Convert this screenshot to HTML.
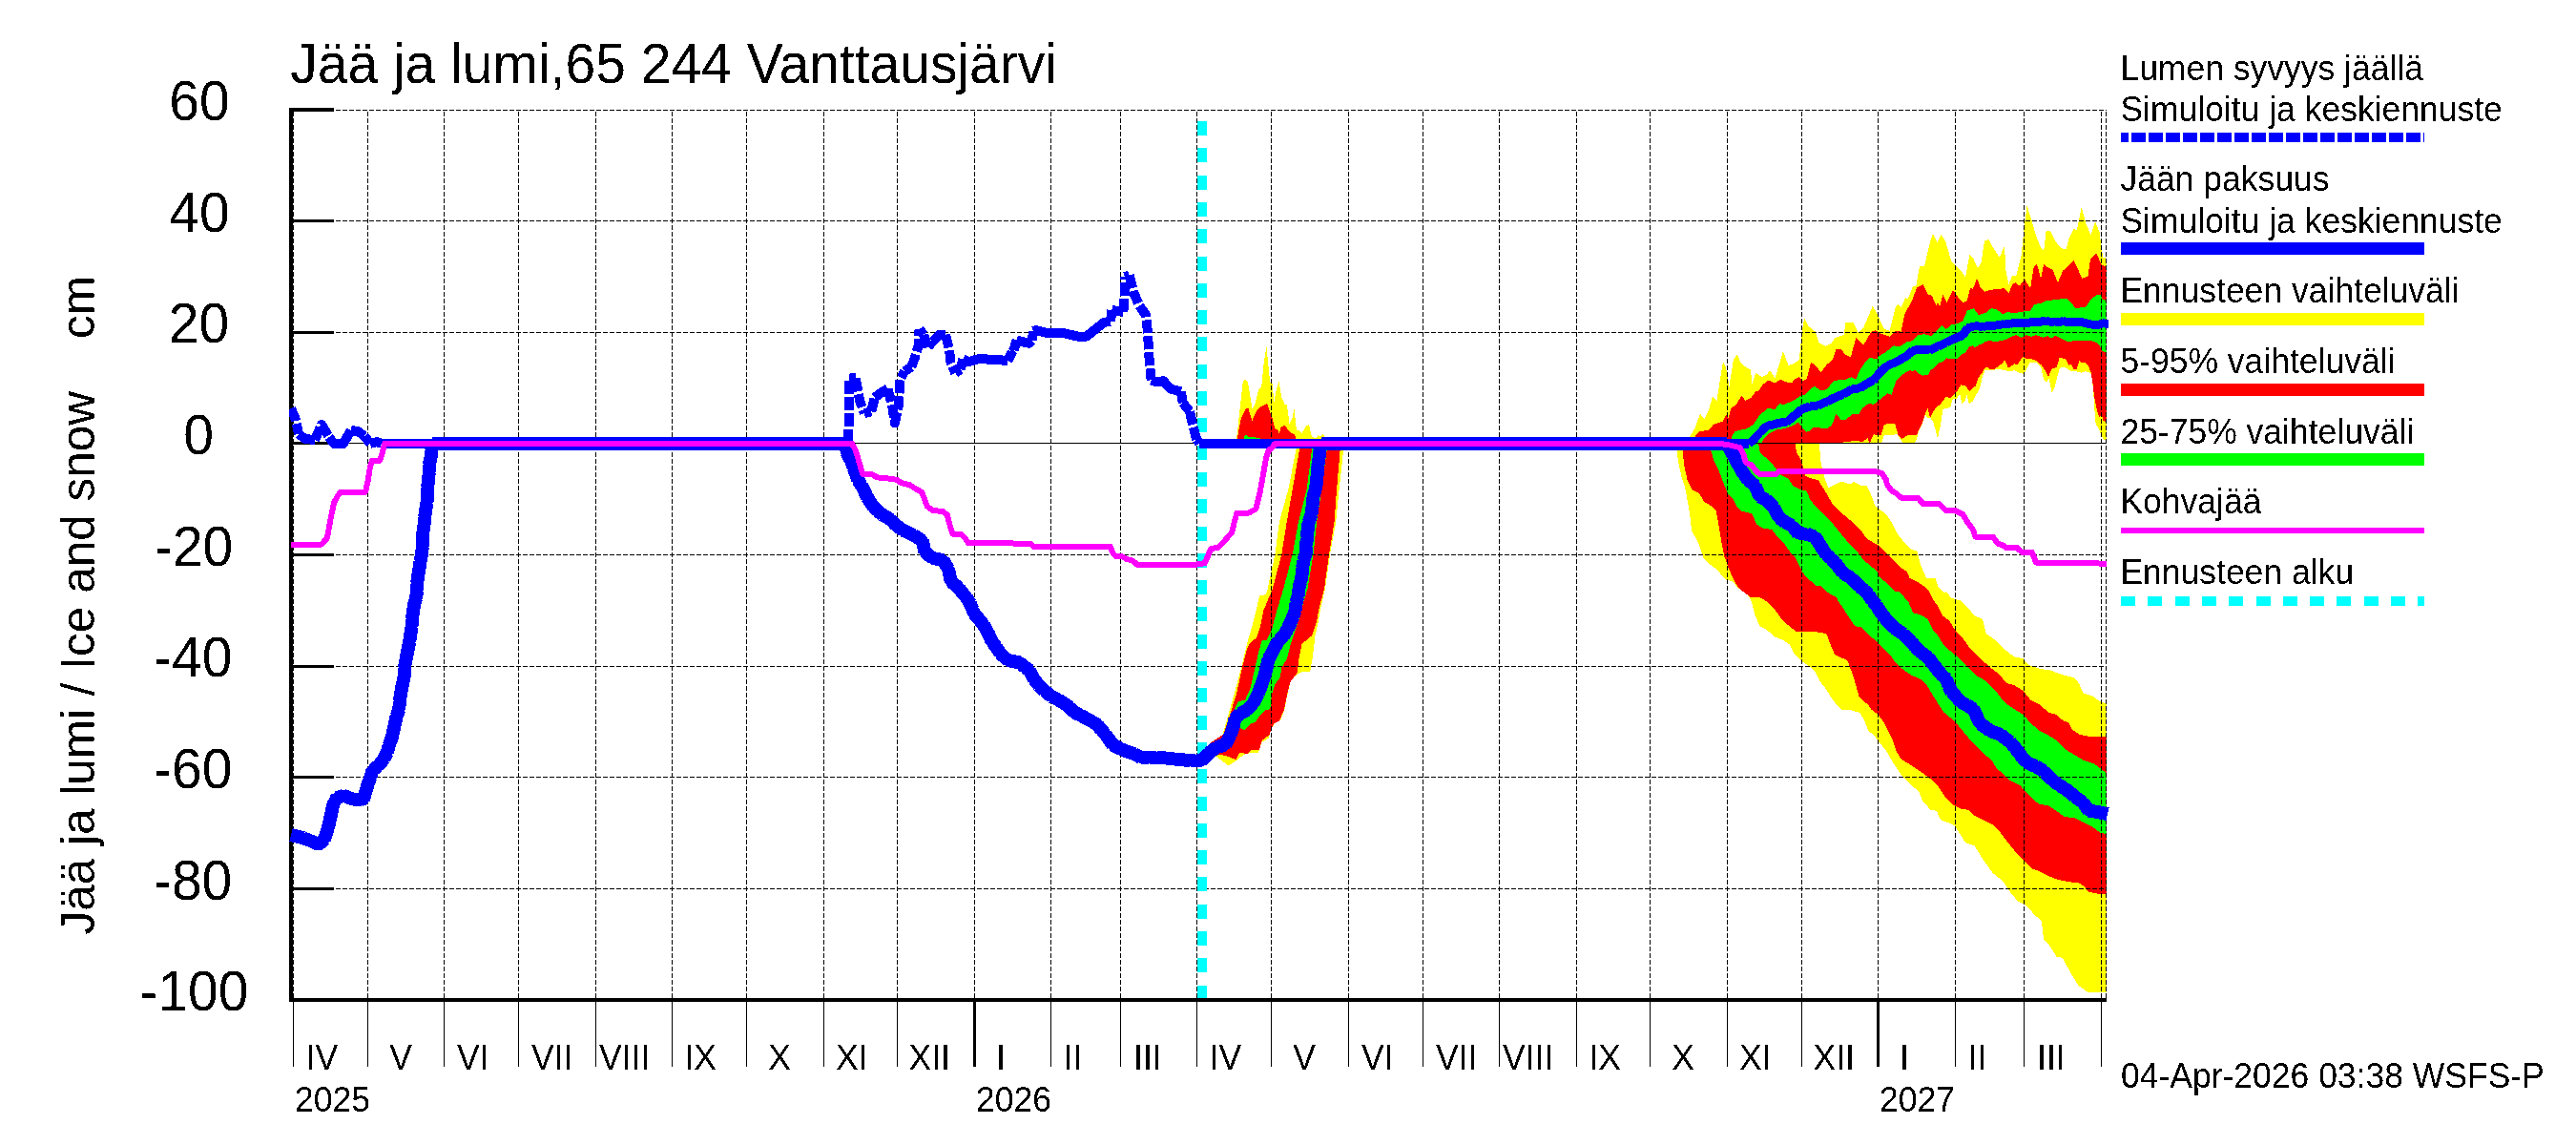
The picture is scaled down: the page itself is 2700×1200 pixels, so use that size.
<!DOCTYPE html>
<html><head><meta charset="utf-8"><title>Jää ja lumi</title>
<style>html,body{margin:0;padding:0;background:#fff}body{width:2700px;height:1200px;overflow:hidden}svg{display:block}</style>
</head><body>
<svg width="2700" height="1200" viewBox="0 0 2700 1200" shape-rendering="crispEdges">
<defs><clipPath id="cp"><rect x="303" y="100" width="1912" height="950"/></clipPath><filter id="th" filterUnits="userSpaceOnUse" x="0" y="0" width="2700" height="1200" color-interpolation-filters="sRGB"><feComponentTransfer><feFuncA type="discrete" tableValues="0 1"/></feComponentTransfer></filter></defs>
<rect width="2700" height="1200" fill="#fff"/>
<g stroke="none">
<polygon fill="#ffff00" points="1296.0,459.5 1297.7,446.5 1300.0,423.8 1302.8,400.0 1305.0,397.7 1307.9,400.0 1310.2,413.6 1312.4,428.3 1315.3,423.8 1319.2,407.9 1322.1,405.6 1324.9,378.4 1327.5,363.6 1329.5,384.0 1331.2,401.1 1334.0,402.2 1335.1,422.6 1338.0,407.9 1340.5,400.0 1343.1,415.8 1346.5,423.8 1348.8,423.8 1351.6,444.2 1354.4,438.5 1356.4,428.3 1359.0,451.0 1361.8,451.0 1364.6,453.9 1369.2,445.9 1372.0,445.3 1374.9,457.8 1379.4,459.5 1381.7,456.1 1383.9,457.3 1386.8,455.0 1388.5,457.8 1390.0,464.5 1296.0,464.5"/>
<polygon fill="#ff0000" points="1296.9,459.5 1298.8,448.8 1301.1,437.4 1304.5,430.6 1306.8,427.2 1308.5,428.3 1312.4,440.8 1317.0,430.6 1321.5,426.0 1327.2,423.2 1328.9,424.9 1331.7,434.0 1334.0,439.7 1336.3,448.8 1339.1,450.5 1340.8,454.4 1342.5,447.6 1345.9,445.9 1348.8,448.8 1352.2,453.3 1357.3,455.6 1358.4,464.5 1296.9,464.5"/>
<polygon fill="#00ff00" points="1303.0,464.5 1304.5,457.0 1306.5,455.5 1309.0,458.5 1313.0,457.5 1318.0,459.0 1324.0,460.0 1325.0,464.5"/>
<polygon fill="#ffff00" points="1359.5,464.5 1358.3,472.2 1350.4,512.4 1340.8,547.3 1336.5,580.5 1328.6,617.2 1327.0,623.0 1320.0,624.5 1316.5,640.0 1312.1,657.5 1306.9,674.9 1301.6,697.6 1294.6,723.8 1287.6,748.3 1280.7,772.8 1270.2,777.1 1266.0,784.0 1273.7,792.0 1280.7,797.2 1287.6,802.4 1294.6,798.1 1299.9,793.7 1305.1,790.2 1310.3,789.3 1319.1,788.5 1322.6,778.0 1329.6,773.6 1333.1,762.3 1336.6,757.9 1341.8,755.3 1346.2,744.8 1348.8,730.8 1352.3,715.1 1355.8,709.9 1362.8,704.6 1373.2,703.8 1375.9,688.9 1378.5,666.2 1382.0,650.5 1383.7,640.0 1388.9,617.2 1394.1,580.5 1400.2,547.3 1403.7,512.4 1408.1,472.2 1409.0,464.5"/>
<polygon fill="#ff0000" points="1363.0,464.5 1361.8,472.2 1354.8,512.4 1348.7,547.3 1343.4,580.5 1333.8,617.2 1324.3,640.0 1320.8,657.5 1317.3,668.0 1309.5,674.9 1306.9,680.2 1301.6,701.1 1296.4,725.6 1291.1,743.1 1282.4,769.3 1269.3,778.0 1267.0,784.0 1273.7,790.2 1280.7,791.1 1287.6,792.8 1295.5,796.3 1299.0,788.5 1306.9,790.2 1312.1,785.9 1320.0,785.9 1322.6,776.2 1330.4,770.1 1334.8,758.8 1340.9,755.3 1346.2,743.1 1348.8,729.1 1352.3,715.1 1360.1,704.6 1361.0,692.4 1364.5,674.9 1375.0,666.2 1380.2,650.5 1382.0,640.0 1388.0,617.2 1393.2,580.5 1398.5,547.3 1401.1,512.4 1404.6,472.2 1405.5,464.5"/>
<polygon fill="#00ff00" points="1376.0,464.5 1374.9,472.2 1369.7,512.4 1360.9,547.3 1354.8,580.5 1345.2,617.2 1338.3,640.0 1333.1,659.2 1327.8,670.6 1322.6,671.4 1319.1,683.7 1315.6,699.4 1310.3,722.1 1305.1,733.4 1298.1,735.2 1293.8,743.1 1292.0,752.0 1299.9,762.3 1304.2,765.8 1310.3,758.8 1315.6,757.0 1319.1,751.8 1325.2,744.8 1331.3,743.1 1333.1,727.3 1336.6,716.9 1341.8,709.9 1343.5,699.4 1348.8,690.7 1352.3,676.7 1357.5,661.0 1362.8,645.2 1363.6,640.0 1370.5,617.2 1376.6,580.5 1380.1,547.3 1385.4,512.4 1390.6,472.2 1391.5,464.5"/>
<polygon fill="#ffff00" points="1771.4,464.5 1972.2,464.5 1974.7,456.0 1988.7,455.4 1991.8,460.2 1994.2,464.5 2006.5,464.5 2008.9,460.2 2011.3,451.5 2015.0,444.1 2018.1,434.3 2019.9,438.2 2023.6,438.2 2026.6,443.1 2030.9,459.6 2034.0,445.6 2036.4,429.1 2040.7,427.8 2044.4,426.6 2046.8,417.5 2051.1,417.5 2054.1,412.6 2056.6,423.0 2059.0,421.1 2061.5,414.4 2063.9,423.6 2067.6,420.5 2071.2,413.8 2074.9,407.7 2077.4,396.7 2080.4,388.1 2083.5,387.5 2090.8,387.5 2094.5,386.9 2100.6,388.1 2107.9,389.3 2111.6,388.1 2117.7,391.2 2121.4,391.8 2124.4,386.3 2127.5,380.2 2134.8,380.2 2139.1,384.4 2142.2,397.9 2145.2,400.3 2147.7,396.7 2150.5,411.3 2153.2,407.1 2155.6,397.9 2158.7,386.3 2162.9,384.4 2166.6,386.3 2170.3,388.7 2176.4,389.3 2181.3,390.6 2186.2,389.3 2189.8,390.0 2192.3,393.0 2194.1,408.9 2195.3,428.5 2196.6,444.4 2199.6,449.2 2202.7,456.6 2205.1,461.5 2208.0,460.2 2208.0,270.7 2204.1,269.9 2200.6,243.7 2196.2,232.3 2191.5,246.3 2186.6,234.9 2181.7,217.5 2177.0,241.0 2173.5,240.2 2168.3,250.7 2165.6,261.1 2160.4,260.3 2155.2,254.1 2149.0,241.9 2144.7,241.9 2142.1,262.9 2139.4,260.3 2134.2,247.2 2129.0,229.7 2124.6,215.4 2122.0,234.9 2118.5,268.1 2113.2,289.1 2108.9,289.1 2105.4,297.8 2102.4,283.8 2101.0,257.6 2095.8,269.9 2088.8,259.4 2084.4,251.0 2080.0,252.4 2076.6,275.1 2073.1,281.2 2067.8,269.9 2064.3,267.2 2060.0,290.8 2055.6,283.8 2050.3,278.6 2045.1,273.4 2039.0,252.4 2034.6,245.8 2030.3,254.1 2025.9,245.1 2022.4,255.9 2017.2,278.6 2011.9,279.5 2008.4,299.6 2004.9,300.4 1999.7,313.5 1997.1,311.8 1992.7,322.3 1989.2,318.8 1986.6,322.3 1980.5,346.7 1975.2,345.0 1970.0,334.5 1967.1,327.9 1962.7,321.0 1958.3,331.4 1953.1,343.7 1947.9,348.9 1942.6,337.6 1934.2,337.6 1933.0,350.7 1923.4,354.1 1919.9,359.4 1913.8,362.9 1906.8,359.4 1902.4,347.2 1895.5,341.9 1891.1,333.2 1888.5,348.9 1885.9,376.9 1879.7,381.2 1874.5,383.0 1868.9,368.1 1864.9,382.1 1860.5,396.1 1854.9,388.2 1851.8,392.6 1846.6,395.2 1840.4,390.8 1836.1,403.1 1835.2,387.3 1830.8,385.6 1824.7,380.3 1820.7,371.3 1816.9,376.9 1812.5,404.8 1809.0,385.6 1806.0,378.6 1802.9,397.8 1799.4,420.5 1795.0,415.3 1790.7,431.0 1786.3,438.9 1781.9,433.6 1776.7,448.5 1771.4,457.2"/>
<polygon fill="#ff0000" points="1776.7,464.5 1925.2,464.5 1946.1,461.6 1952.2,463.3 1957.5,459.0 1959.0,463.3 1960.0,463.9 1963.7,455.4 1971.6,456.0 1974.7,445.6 1978.3,444.1 1986.3,444.1 1989.3,455.4 1993.6,459.6 2000.3,456.0 2008.9,456.0 2011.3,450.5 2015.0,443.1 2018.1,433.3 2020.5,427.8 2023.0,437.6 2026.6,430.9 2029.7,426.6 2033.3,424.2 2039.5,416.2 2044.4,416.8 2048.0,413.8 2051.7,409.5 2055.4,403.4 2060.2,404.6 2064.5,410.1 2067.6,406.5 2070.6,404.6 2073.7,395.5 2077.4,391.2 2080.4,385.7 2083.5,385.1 2085.9,386.9 2090.8,386.9 2095.7,382.6 2098.8,380.8 2101.2,377.1 2104.9,385.7 2108.5,383.2 2111.6,381.4 2114.6,382.0 2117.7,377.7 2120.1,374.1 2123.8,375.9 2128.7,375.9 2134.8,378.3 2139.7,382.6 2143.4,388.1 2147.0,394.8 2150.7,386.3 2155.6,385.1 2158.7,374.7 2161.7,375.3 2165.4,376.5 2168.4,383.2 2170.9,381.4 2173.3,386.9 2176.4,386.9 2179.4,378.3 2181.3,380.2 2186.2,380.2 2189.2,384.4 2191.7,390.6 2193.5,401.6 2195.3,417.5 2198.4,432.1 2200.8,438.2 2202.7,433.3 2204.5,440.7 2208.0,443.1 2208.0,280.3 2202.3,276.9 2197.1,265.0 2191.0,271.6 2188.3,290.0 2182.2,291.7 2177.9,282.1 2173.5,273.4 2167.4,279.5 2162.1,283.8 2156.9,296.1 2151.7,283.0 2146.4,280.3 2142.1,276.9 2139.1,292.6 2135.1,276.9 2131.6,280.3 2128.1,302.2 2124.6,296.9 2122.0,292.6 2116.7,299.6 2112.4,296.1 2108.9,298.7 2105.4,307.4 2101.0,302.2 2092.3,303.1 2085.3,303.9 2080.0,305.7 2075.7,301.3 2072.2,291.7 2067.8,303.1 2065.2,301.3 2061.7,315.3 2057.3,317.0 2053.8,313.5 2050.3,308.3 2046.9,303.9 2040.7,317.0 2036.4,308.3 2033.2,321.4 2031.1,317.0 2029.4,320.5 2025.0,310.0 2020.7,308.3 2015.8,298.2 2009.3,301.3 2003.2,317.0 1996.2,329.3 1992.7,347.6 1986.6,346.7 1980.5,352.8 1970.0,349.3 1966.2,346.3 1961.8,347.2 1958.3,352.4 1953.1,362.0 1949.6,358.5 1945.2,354.1 1940.0,374.2 1933.9,371.6 1930.4,366.4 1924.3,366.4 1920.8,376.9 1914.7,382.1 1908.6,390.0 1903.3,383.8 1898.1,379.5 1893.7,396.9 1889.3,399.6 1885.9,395.2 1881.5,396.9 1878.0,401.3 1872.8,400.4 1865.8,397.8 1860.5,401.3 1853.5,398.7 1847.4,403.1 1843.9,409.2 1840.4,410.0 1835.2,417.0 1829.1,419.7 1825.6,414.4 1820.3,423.1 1814.2,428.4 1811.6,438.0 1809.0,434.5 1805.5,441.5 1795.9,445.0 1790.7,451.1 1781.0,452.0 1776.7,457.2"/>
<polygon fill="#00ff00" points="1815.1,464.5 1846.0,464.5 1848.3,460.7 1855.3,453.7 1862.3,450.2 1870.1,449.3 1879.7,445.9 1885.0,442.4 1890.2,450.2 1892.8,452.8 1896.3,452.0 1900.7,447.6 1907.7,448.5 1914.7,449.3 1919.9,445.9 1921.7,441.5 1924.3,433.6 1929.5,439.7 1934.8,439.7 1940.9,434.5 1948.7,433.6 1952.2,427.5 1958.3,423.1 1960.0,422.3 1963.7,424.2 1968.6,419.9 1972.2,417.5 1978.3,412.0 1982.6,413.8 1984.4,407.7 1987.5,399.1 1991.8,394.8 1996.7,390.6 2002.2,388.1 2004.0,389.3 2007.1,388.1 2011.3,391.8 2015.0,393.6 2021.1,393.0 2023.6,388.1 2028.5,384.4 2032.1,380.2 2037.0,378.9 2040.1,375.3 2044.4,376.5 2049.2,375.9 2052.9,375.3 2055.4,371.6 2060.2,369.2 2063.9,363.7 2067.6,362.4 2070.0,364.3 2074.9,361.2 2078.6,360.0 2080.0,358.1 2085.3,357.2 2092.3,358.1 2101.0,356.3 2108.0,352.8 2113.2,351.1 2118.5,353.7 2123.7,351.1 2129.0,352.8 2134.2,351.1 2141.2,353.7 2146.4,352.0 2149.9,354.6 2154.3,352.0 2158.6,353.7 2167.4,358.1 2174.4,357.2 2184.8,357.2 2192.7,357.2 2197.1,359.0 2200.6,361.6 2203.2,367.7 2208.0,369.4 2208.0,315.3 2204.1,313.5 2201.4,309.2 2197.1,309.2 2191.0,314.4 2186.6,321.4 2181.4,322.3 2175.2,323.1 2170.9,317.0 2165.6,312.7 2158.6,313.5 2151.7,314.4 2144.7,315.3 2139.4,317.9 2132.4,318.8 2128.1,325.8 2120.2,326.6 2109.7,328.4 2104.5,326.6 2099.3,329.3 2092.3,324.0 2087.0,323.1 2081.8,327.5 2073.9,330.1 2068.7,323.1 2061.7,325.8 2057.3,336.2 2052.1,338.9 2045.1,340.6 2039.9,345.0 2035.5,340.6 2029.4,346.7 2024.1,352.0 2017.2,350.2 2010.2,351.1 2004.9,357.2 1998.8,358.1 1991.0,363.3 1984.8,362.4 1977.0,368.6 1970.0,372.9 1967.1,376.0 1959.2,375.1 1955.7,378.6 1949.6,387.3 1945.2,397.8 1940.9,395.2 1933.9,397.8 1923.4,398.7 1919.9,401.3 1914.7,408.3 1908.6,409.2 1901.6,404.8 1897.2,408.3 1892.0,413.5 1886.7,415.3 1879.7,419.7 1870.1,424.0 1864.9,423.1 1860.5,429.3 1853.5,427.5 1844.8,434.5 1837.8,445.0 1830.8,449.3 1818.6,452.0 1815.1,457.2"/>
<polygon fill="#ffff00" points="1756.5,464.5 1757.5,471.8 1759.2,484.9 1762.7,500.7 1766.2,511.1 1768.8,525.1 1771.4,540.8 1773.2,556.6 1780.2,568.8 1785.4,584.5 1792.4,591.5 1799.4,596.7 1808.1,607.2 1816.9,609.8 1820.3,615.1 1830.8,622.1 1835.7,630.0 1839.2,644.0 1844.5,656.2 1851.4,659.7 1860.2,667.6 1868.9,671.0 1875.9,675.4 1881.1,685.9 1888.1,692.9 1895.1,697.2 1902.1,703.4 1907.3,713.8 1914.3,722.6 1919.6,731.3 1924.8,738.3 1930.0,743.5 1940.5,744.4 1949.3,747.0 1954.5,755.8 1958.0,765.4 1965.0,771.5 1970.2,778.5 1977.2,787.2 1984.2,799.4 1991.2,809.9 1994.2,814.2 2002.6,822.6 2011.0,828.9 2015.1,839.3 2023.5,848.8 2029.8,849.8 2034.0,859.2 2042.4,862.4 2048.7,865.5 2055.0,875.0 2060.2,883.3 2069.6,886.5 2078.0,900.1 2088.5,914.8 2099.0,923.1 2107.3,935.7 2115.7,945.1 2124.1,949.3 2132.5,958.8 2139.8,965.0 2141.9,983.9 2149.2,992.3 2155.5,1002.8 2161.8,1003.8 2170.2,1019.5 2178.6,1033.1 2189.0,1040.3 2208.0,1040.3 2208.0,737.2 2201.0,735.3 2193.3,729.5 2183.7,726.6 2178.9,716.1 2174.1,710.3 2162.6,707.4 2149.1,702.6 2137.6,700.7 2126.1,696.8 2120.3,690.1 2110.7,688.2 2101.1,680.5 2091.5,670.9 2081.9,664.2 2078.0,648.8 2070.3,645.9 2062.7,637.3 2055.0,629.6 2045.4,626.7 2039.6,620.0 2038.1,621.2 2031.1,614.2 2028.5,606.3 2018.9,605.5 2012.8,591.5 2009.3,577.5 2003.2,575.8 1996.2,568.8 1989.2,560.0 1984.0,549.6 1977.0,539.1 1970.0,533.8 1965.3,530.3 1961.0,518.1 1956.6,509.4 1949.6,508.5 1942.6,505.0 1939.1,507.6 1930.4,504.5 1923.4,507.6 1916.4,511.1 1912.1,499.8 1908.6,484.9 1906.8,464.5"/>
<polygon fill="#ff0000" points="1762.5,464.5 1763.6,471.8 1765.3,488.4 1768.8,504.1 1774.1,513.8 1781.0,517.2 1786.3,526.0 1792.4,529.5 1798.5,534.7 1801.1,547.8 1803.8,565.3 1807.2,582.8 1811.6,595.0 1816.9,607.2 1822.1,615.9 1827.3,620.3 1834.3,625.5 1844.8,626.4 1851.4,630.0 1860.2,638.7 1868.9,651.0 1877.6,657.9 1882.9,662.0 1903.8,662.3 1914.3,664.1 1917.8,673.7 1923.1,685.9 1930.0,689.4 1936.2,692.0 1940.5,703.4 1944.0,713.8 1948.4,729.6 1952.8,734.8 1958.0,738.3 1961.5,743.5 1968.5,748.8 1973.7,755.8 1979.0,766.2 1984.2,776.7 1987.7,787.2 1992.9,795.9 2001.7,801.2 2012.1,808.2 2015.1,810.0 2023.5,816.3 2031.9,824.7 2040.3,837.2 2046.6,843.5 2055.0,847.7 2063.3,848.8 2069.6,855.0 2080.1,860.3 2088.5,864.5 2096.9,872.9 2103.1,881.2 2111.5,891.7 2122.0,902.2 2130.4,910.6 2138.8,913.7 2149.2,919.0 2157.6,922.1 2168.1,924.2 2178.6,925.2 2184.9,929.4 2189.0,934.7 2199.5,936.8 2208.0,936.8 2208.0,771.8 2189.4,771.8 2179.8,769.8 2172.2,765.0 2168.3,757.4 2162.6,755.4 2154.9,748.7 2147.2,746.8 2137.6,738.1 2128.0,733.3 2120.3,723.7 2110.7,718.0 2103.0,716.1 2095.3,706.4 2087.6,700.7 2079.9,694.0 2072.3,687.2 2064.6,679.6 2058.8,670.9 2049.2,660.3 2043.4,650.7 2035.8,645.0 2030.0,633.4 2025.9,628.2 2021.5,618.6 2016.3,614.2 2008.4,609.0 2001.4,605.5 1998.8,599.3 1992.7,595.0 1984.0,586.2 1977.0,579.3 1970.0,572.3 1965.3,569.7 1956.6,564.4 1949.6,554.8 1942.6,547.8 1933.9,540.8 1925.2,533.0 1919.9,526.9 1912.9,514.6 1905.9,503.3 1898.9,501.5 1892.0,498.9 1888.5,483.2 1883.2,474.5 1881.5,464.5"/>
<polygon fill="#00ff00" points="1792.0,464.5 1793.3,471.8 1795.9,481.4 1801.1,491.9 1806.4,505.9 1810.7,517.2 1816.9,523.4 1820.3,531.2 1825.6,535.6 1836.1,538.2 1841.3,549.6 1848.3,553.9 1857.0,554.8 1862.3,561.8 1869.3,568.8 1876.2,578.4 1882.4,585.4 1888.5,598.5 1893.7,605.5 1904.2,614.2 1908.6,614.2 1914.7,620.3 1925.2,626.4 1926.6,630.0 1931.8,637.0 1937.0,645.7 1944.0,656.2 1951.0,657.1 1958.0,664.9 1966.7,671.9 1973.7,678.9 1980.7,685.9 1987.7,695.5 1994.7,701.6 2003.4,707.7 2012.1,711.2 2019.1,717.3 2024.4,726.1 2030.0,735.3 2037.7,746.8 2049.2,756.4 2058.8,767.9 2068.4,779.4 2078.0,789.0 2087.6,796.7 2093.4,806.3 2099.0,810.0 2107.3,818.4 2117.8,823.6 2126.2,833.0 2136.7,842.5 2147.1,844.6 2155.5,849.8 2163.9,856.1 2174.4,857.1 2184.9,862.4 2193.2,866.6 2201.6,872.9 2208.0,873.9 2208.0,810.2 2202.9,806.3 2195.2,800.6 2183.7,796.7 2174.1,791.0 2164.5,785.2 2154.9,775.6 2147.2,770.8 2137.6,766.0 2128.0,757.4 2120.3,748.7 2110.7,742.9 2101.1,736.2 2091.5,723.7 2081.9,714.1 2072.3,708.4 2062.7,698.8 2053.1,689.2 2043.4,681.5 2035.8,673.8 2030.0,664.2 2026.1,660.6 2020.9,649.2 2013.9,644.8 2005.2,642.2 1999.9,630.0 1997.9,628.2 1991.0,620.3 1985.7,619.4 1977.0,610.7 1970.0,604.6 1967.1,598.5 1956.6,589.7 1951.4,584.5 1946.1,577.5 1937.4,568.8 1928.6,558.3 1921.7,549.6 1912.9,540.8 1904.2,532.1 1897.2,523.4 1893.7,514.6 1888.5,513.8 1879.7,509.4 1874.5,501.5 1865.8,497.2 1858.8,487.6 1851.8,480.6 1844.8,474.5 1843.1,464.5"/>
</g>
<g fill="#000">
<rect x="303" y="113" width="4" height="937"/>
<rect x="303" y="1046" width="1905" height="4"/>
<rect x="303" y="113" width="47" height="4"/>
<rect x="303" y="230" width="47" height="3"/>
<rect x="303" y="347" width="47" height="3"/>
<rect x="303" y="463" width="47" height="3"/>
<rect x="303" y="580" width="47" height="3"/>
<rect x="303" y="697" width="47" height="3"/>
<rect x="303" y="813" width="47" height="3"/>
<rect x="303" y="930" width="47" height="3"/>
<rect x="307" y="1050" width="1" height="68"/>
<rect x="385" y="1050" width="1" height="68"/>
<rect x="465" y="1050" width="1" height="68"/>
<rect x="543" y="1050" width="1" height="68"/>
<rect x="624" y="1050" width="1" height="68"/>
<rect x="704" y="1050" width="1" height="68"/>
<rect x="782" y="1050" width="1" height="68"/>
<rect x="863" y="1050" width="1" height="68"/>
<rect x="940" y="1050" width="1" height="68"/>
<rect x="1020" y="1050" width="3" height="68"/>
<rect x="1101" y="1050" width="1" height="68"/>
<rect x="1174" y="1050" width="1" height="68"/>
<rect x="1254" y="1050" width="1" height="68"/>
<rect x="1332" y="1050" width="1" height="68"/>
<rect x="1413" y="1050" width="1" height="68"/>
<rect x="1491" y="1050" width="1" height="68"/>
<rect x="1571" y="1050" width="1" height="68"/>
<rect x="1652" y="1050" width="1" height="68"/>
<rect x="1729" y="1050" width="1" height="68"/>
<rect x="1810" y="1050" width="1" height="68"/>
<rect x="1888" y="1050" width="1" height="68"/>
<rect x="1967" y="1050" width="3" height="68"/>
<rect x="2049" y="1050" width="1" height="68"/>
<rect x="2121" y="1050" width="1" height="68"/>
<rect x="2202" y="1050" width="1" height="68"/>
</g>
<g stroke="#000" stroke-width="1" stroke-dasharray="5 2" fill="none">
<line x1="307.5" y1="117" x2="307.5" y2="1046"/>
<line x1="385.5" y1="117" x2="385.5" y2="1046"/>
<line x1="465.5" y1="117" x2="465.5" y2="1046"/>
<line x1="543.5" y1="117" x2="543.5" y2="1046"/>
<line x1="624.5" y1="117" x2="624.5" y2="1046"/>
<line x1="704.5" y1="117" x2="704.5" y2="1046"/>
<line x1="782.5" y1="117" x2="782.5" y2="1046"/>
<line x1="863.5" y1="117" x2="863.5" y2="1046"/>
<line x1="940.5" y1="117" x2="940.5" y2="1046"/>
<line x1="1021.5" y1="117" x2="1021.5" y2="1046"/>
<line x1="1101.5" y1="117" x2="1101.5" y2="1046"/>
<line x1="1174.5" y1="117" x2="1174.5" y2="1046"/>
<line x1="1254.5" y1="117" x2="1254.5" y2="1046"/>
<line x1="1332.5" y1="117" x2="1332.5" y2="1046"/>
<line x1="1413.5" y1="117" x2="1413.5" y2="1046"/>
<line x1="1491.5" y1="117" x2="1491.5" y2="1046"/>
<line x1="1571.5" y1="117" x2="1571.5" y2="1046"/>
<line x1="1652.5" y1="117" x2="1652.5" y2="1046"/>
<line x1="1729.5" y1="117" x2="1729.5" y2="1046"/>
<line x1="1810.5" y1="117" x2="1810.5" y2="1046"/>
<line x1="1888.5" y1="117" x2="1888.5" y2="1046"/>
<line x1="1968.5" y1="117" x2="1968.5" y2="1046"/>
<line x1="2049.5" y1="117" x2="2049.5" y2="1046"/>
<line x1="2121.5" y1="117" x2="2121.5" y2="1046"/>
<line x1="2202.5" y1="117" x2="2202.5" y2="1046"/>
<line x1="2207.5" y1="117" x2="2207.5" y2="1046"/>
<line x1="352" y1="115.5" x2="2208" y2="115.5"/>
<line x1="352" y1="231.5" x2="2208" y2="231.5"/>
<line x1="352" y1="348.5" x2="2208" y2="348.5"/>
<line x1="352" y1="581.5" x2="2208" y2="581.5"/>
<line x1="352" y1="698.5" x2="2208" y2="698.5"/>
<line x1="352" y1="814.5" x2="2208" y2="814.5"/>
<line x1="352" y1="931.5" x2="2208" y2="931.5"/>
</g>
<rect x="307" y="464" width="1901" height="1" fill="#000"/>
<g clip-path="url(#cp)">
<line x1="1260" y1="127" x2="1260" y2="1046" stroke="#00ffff" stroke-width="10" stroke-dasharray="15 13.3"/>
<polyline fill="none" stroke="#0000ff" stroke-width="10" stroke-linejoin="round" stroke-dasharray="14 3" points="305.0,428.0 310.0,440.0 313.0,455.0"/>
<polyline fill="none" stroke="#0000ff" stroke-width="10" stroke-linejoin="round"  points="313.0,455.0 320.0,460.0 330.0,461.0"/>
<polyline fill="none" stroke="#0000ff" stroke-width="10" stroke-linejoin="round" stroke-dasharray="14 3" points="330.0,461.0 337.0,445.0 345.0,458.0"/>
<polyline fill="none" stroke="#0000ff" stroke-width="10" stroke-linejoin="round"  points="345.0,458.0 350.0,465.0 360.0,465.0 362.0,461.0"/>
<polyline fill="none" stroke="#0000ff" stroke-width="10" stroke-linejoin="round" stroke-dasharray="14 3" points="362.0,461.0 368.0,451.0"/>
<polyline fill="none" stroke="#0000ff" stroke-width="10" stroke-linejoin="round"  points="368.0,451.0 375.0,452.0 382.0,457.0"/>
<polyline fill="none" stroke="#0000ff" stroke-width="10" stroke-linejoin="round" stroke-dasharray="14 3" points="382.0,457.0 388.0,465.0"/>
<polyline fill="none" stroke="#0000ff" stroke-width="10" stroke-linejoin="round"  points="388.0,465.0 395.0,463.0 400.0,465.0"/>
<polyline fill="none" stroke="#0000ff" stroke-width="10" stroke-linejoin="round"  points="400.0,465.0 889.3,465.0"/>
<polyline fill="none" stroke="#0000ff" stroke-width="10" stroke-linejoin="round" stroke-dasharray="14 3" points="889.3,464.0 890.2,396.0"/>
<polyline fill="none" stroke="#0000ff" stroke-width="10" stroke-linejoin="round"  points="890.2,396.0 896.7,396.5"/>
<polyline fill="none" stroke="#0000ff" stroke-width="10" stroke-linejoin="round" stroke-dasharray="14 3" points="896.7,396.5 901.3,420.3 905.8,433.2"/>
<polyline fill="none" stroke="#0000ff" stroke-width="10" stroke-linejoin="round"  points="905.8,433.2 913.2,431.3"/>
<polyline fill="none" stroke="#0000ff" stroke-width="10" stroke-linejoin="round" stroke-dasharray="14 3" points="913.2,431.3 916.8,416.7"/>
<polyline fill="none" stroke="#0000ff" stroke-width="10" stroke-linejoin="round"  points="916.8,416.7 924.2,411.2 930.6,407.5"/>
<polyline fill="none" stroke="#0000ff" stroke-width="10" stroke-linejoin="round" stroke-dasharray="14 3" points="930.6,407.5 935.2,425.8 937.9,443.3 941.6,425.8 943.4,398.3 948.0,389.2"/>
<polyline fill="none" stroke="#0000ff" stroke-width="10" stroke-linejoin="round"  points="948.0,389.2 955.3,384.6"/>
<polyline fill="none" stroke="#0000ff" stroke-width="10" stroke-linejoin="round" stroke-dasharray="14 3" points="955.3,384.6 959.0,374.5 962.7,361.7 963.6,345.2"/>
<polyline fill="none" stroke="#0000ff" stroke-width="10" stroke-linejoin="round"  points="963.6,345.2 968.2,350.7"/>
<polyline fill="none" stroke="#0000ff" stroke-width="10" stroke-linejoin="round" stroke-dasharray="14 3" points="968.2,350.7 971.8,365.3 977.3,358.0"/>
<polyline fill="none" stroke="#0000ff" stroke-width="10" stroke-linejoin="round"  points="977.3,358.0 984.7,350.7 991.1,350.7"/>
<polyline fill="none" stroke="#0000ff" stroke-width="10" stroke-linejoin="round" stroke-dasharray="14 3" points="991.1,350.7 994.8,365.3 996.6,380.0 1001.2,391.0"/>
<polyline fill="none" stroke="#0000ff" stroke-width="10" stroke-linejoin="round"  points="1001.2,391.0 1006.7,387.3"/>
<polyline fill="none" stroke="#0000ff" stroke-width="10" stroke-linejoin="round" stroke-dasharray="14 3" points="1006.7,387.3 1009.4,376.3"/>
<polyline fill="none" stroke="#0000ff" stroke-width="10" stroke-linejoin="round"  points="1009.4,376.3 1015.8,379.1 1025.0,376.3 1043.3,376.7 1056.2,378.2"/>
<polyline fill="none" stroke="#0000ff" stroke-width="10" stroke-linejoin="round" stroke-dasharray="14 3" points="1056.2,378.2 1060.8,369.0"/>
<polyline fill="none" stroke="#0000ff" stroke-width="10" stroke-linejoin="round"  points="1060.8,369.0 1062.7,367.2"/>
<polyline fill="none" stroke="#0000ff" stroke-width="10" stroke-linejoin="round" stroke-dasharray="14 3" points="1062.7,367.2 1065.5,356.2"/>
<polyline fill="none" stroke="#0000ff" stroke-width="10" stroke-linejoin="round"  points="1065.5,356.2 1071.0,358.0 1078.3,359.8 1082.0,357.0"/>
<polyline fill="none" stroke="#0000ff" stroke-width="10" stroke-linejoin="round" stroke-dasharray="14 3" points="1082.0,357.0 1082.9,347.0"/>
<polyline fill="none" stroke="#0000ff" stroke-width="10" stroke-linejoin="round"  points="1082.9,347.0 1085.7,346.1 1096.7,348.8 1113.2,348.8 1133.3,353.4 1138.8,352.5 1148.0,345.2 1157.2,337.8 1164.0,336.9"/>
<polyline fill="none" stroke="#0000ff" stroke-width="10" stroke-linejoin="round" stroke-dasharray="14 3" points="1164.0,336.9 1165.4,325.0"/>
<polyline fill="none" stroke="#0000ff" stroke-width="10" stroke-linejoin="round"  points="1165.4,325.0 1177.3,326.8"/>
<polyline fill="none" stroke="#0000ff" stroke-width="10" stroke-linejoin="round" stroke-dasharray="14 3" points="1177.3,326.8 1178.3,315.8 1179.2,290.2"/>
<polyline fill="none" stroke="#0000ff" stroke-width="10" stroke-linejoin="round"  points="1179.2,290.2 1183.8,288.3"/>
<polyline fill="none" stroke="#0000ff" stroke-width="10" stroke-linejoin="round" stroke-dasharray="14 3" points="1183.8,288.3 1188.3,306.7 1193.8,319.5 1201.2,330.5 1203.0,348.8 1204.8,380.0 1206.7,398.3"/>
<polyline fill="none" stroke="#0000ff" stroke-width="10" stroke-linejoin="round"  points="1206.7,398.3 1212.2,400.2 1219.5,399.3 1226.8,407.5 1237.8,410.3"/>
<polyline fill="none" stroke="#0000ff" stroke-width="10" stroke-linejoin="round" stroke-dasharray="14 3" points="1237.8,410.3 1239.7,422.2"/>
<polyline fill="none" stroke="#0000ff" stroke-width="10" stroke-linejoin="round"  points="1239.7,422.2 1247.0,431.3"/>
<polyline fill="none" stroke="#0000ff" stroke-width="10" stroke-linejoin="round" stroke-dasharray="14 3" points="1247.0,431.3 1250.7,447.8 1254.3,460.7"/>
<polyline fill="none" stroke="#0000ff" stroke-width="10" stroke-linejoin="round"  points="1254.3,460.7 1257.0,464.5"/>
<polyline fill="none" stroke="#0000ff" stroke-width="10" stroke-linejoin="round"  points="1257.0,465.0 1833.0,465.0"/>
<polyline fill="none" stroke="#0000ff" stroke-width="7" stroke-linejoin="round" points="1833.0,465.0 1837.7,461.4 1841.0,457.4 1844.9,453.8 1851.4,446.3 1857.1,445.4 1862.3,443.9 1867.5,442.7 1872.8,442.4 1879.4,436.7 1884.0,433.1 1888.2,428.9 1897.1,426.1 1905.9,424.8 1914.9,420.9 1923.2,416.6 1932.0,413.2 1936.6,410.6 1941.2,407.8 1949.6,406.7 1958.2,401.2 1963.0,398.7 1966.8,394.8 1970.4,390.6 1974.2,386.7 1978.4,383.1 1987.3,379.5 1996.1,374.5 2000.8,371.5 2004.7,367.4 2013.7,366.0 2022.4,367.0 2031.0,363.2 2039.9,359.1 2048.4,355.0 2057.1,351.5 2062.3,343.9 2069.7,341.7 2078.3,342.3 2083.5,341.7 2088.8,341.6 2094.9,340.5 2101.0,339.5 2107.1,339.2 2113.2,338.2 2122.0,338.6 2127.2,338.1 2132.4,337.1 2138.6,337.1 2144.7,336.5 2153.5,337.8 2162.2,336.8 2171.0,337.6 2179.6,337.0 2188.2,339.2 2197.2,341.1 2204.1,338.9 2210.1,339.2"/>
<path fill="none" stroke="#0000ff" stroke-width="9" stroke-linecap="butt" d="M1833.0 465.0L1837.7 461.4 M1837.7 461.4L1841.0 457.4 M1841.0 457.4L1844.9 453.8 M1844.9 453.8L1851.4 446.3 M1851.4 446.3L1857.1 445.4 M1857.1 445.4L1862.3 443.9 M1862.3 443.9L1867.5 442.7 M1867.5 442.7L1872.8 442.4 M1872.8 442.4L1879.4 436.7 M1879.4 436.7L1884.0 433.1 M1884.0 433.1L1888.2 428.9 M1888.2 428.9L1897.1 426.1 M1897.1 426.1L1905.9 424.8 M1905.9 424.8L1914.9 420.9 M1914.9 420.9L1923.2 416.6 M1923.2 416.6L1932.0 413.2 M1932.0 413.2L1936.6 410.6 M1936.6 410.6L1941.2 407.8 M1941.2 407.8L1949.6 406.7 M1949.6 406.7L1958.2 401.2 M1958.2 401.2L1963.0 398.7 M1963.0 398.7L1966.8 394.8 M1966.8 394.8L1970.4 390.6 M1970.4 390.6L1974.2 386.7 M1974.2 386.7L1978.4 383.1 M1978.4 383.1L1987.3 379.5 M1987.3 379.5L1996.1 374.5 M1996.1 374.5L2000.8 371.5 M2000.8 371.5L2004.7 367.4 M2004.7 367.4L2013.7 366.0 M2013.7 366.0L2022.4 367.0 M2022.4 367.0L2031.0 363.2 M2031.0 363.2L2039.9 359.1 M2039.9 359.1L2048.4 355.0 M2048.4 355.0L2057.1 351.5 M2057.1 351.5L2062.3 343.9 M2062.3 343.9L2069.7 341.7 M2069.7 341.7L2078.3 342.3 M2078.3 342.3L2083.5 341.7 M2083.5 341.7L2088.8 341.6 M2088.8 341.6L2094.9 340.5 M2094.9 340.5L2101.0 339.5 M2101.0 339.5L2107.1 339.2 M2107.1 339.2L2113.2 338.2 M2113.2 338.2L2122.0 338.6 M2122.0 338.6L2127.2 338.1 M2127.2 338.1L2132.4 337.1 M2132.4 337.1L2138.6 337.1 M2138.6 337.1L2144.7 336.5 M2144.7 336.5L2153.5 337.8 M2153.5 337.8L2162.2 336.8 M2162.2 336.8L2171.0 337.6 M2171.0 337.6L2179.6 337.0 M2179.6 337.0L2188.2 339.2 M2188.2 339.2L2197.2 341.1 M2197.2 341.1L2204.1 338.9 M2204.1 338.9L2210.1 339.2"/>
<polyline fill="none" stroke="#0000ff" stroke-width="12" stroke-linejoin="round" points="305.0,875.0 311.4,876.7 317.9,878.3 325.0,880.9 334.8,885.2 339.8,879.6 342.8,871.2 345.1,862.5 346.8,854.9 348.3,847.2 350.5,839.6 353.6,836.0 360.0,833.7 369.9,837.7 379.1,837.8 380.5,838.5 383.2,830.3 385.5,822.1 388.4,814.6 390.5,807.0 396.6,802.7 402.5,795.2 405.7,788.7 407.7,781.5 410.7,773.1 412.7,764.4 414.2,757.3 415.7,750.3 418.4,743.5 418.7,735.0 420.1,726.7 421.6,718.4 423.7,709.5 423.7,700.4 425.5,691.5 427.7,680.0 429.3,672.5 430.3,664.8 431.5,657.2 431.7,649.5 433.0,641.9 434.0,634.3 436.0,626.8 437.2,619.2 437.0,611.4 438.2,603.8 439.4,596.2 440.5,588.6 442.0,581.0 442.8,573.2 443.0,565.4 443.3,557.6 444.6,549.8 445.2,542.1 446.2,534.3 447.5,526.6 447.8,518.7 448.2,510.9 449.0,503.2 449.8,495.4 449.5,487.5 451.6,479.8 452.0,472.0 453.1,465.1"/>
<path fill="none" stroke="#0000ff" stroke-width="14" stroke-linecap="butt" d="M305.0 875.0L311.4 876.7 M311.4 876.7L317.9 878.3 M317.9 878.3L325.0 880.9 M325.0 880.9L334.8 885.2 M334.8 885.2L339.8 879.6 M339.8 879.6L342.8 871.2 M342.8 871.2L345.1 862.5 M345.1 862.5L346.8 854.9 M346.8 854.9L348.3 847.2 M348.3 847.2L350.5 839.6 M350.5 839.6L353.6 836.0 M353.6 836.0L360.0 833.7 M360.0 833.7L369.9 837.7 M369.9 837.7L379.1 837.8 M379.1 837.8L380.5 838.5 M380.5 838.5L383.2 830.3 M383.2 830.3L385.5 822.1 M385.5 822.1L388.4 814.6 M388.4 814.6L390.5 807.0 M390.5 807.0L396.6 802.7 M396.6 802.7L402.5 795.2 M402.5 795.2L405.7 788.7 M405.7 788.7L407.7 781.5 M407.7 781.5L410.7 773.1 M410.7 773.1L412.7 764.4 M412.7 764.4L414.2 757.3 M414.2 757.3L415.7 750.3 M415.7 750.3L418.4 743.5 M418.4 743.5L418.7 735.0 M418.7 735.0L420.1 726.7 M420.1 726.7L421.6 718.4 M421.6 718.4L423.7 709.5 M423.7 709.5L423.7 700.4 M423.7 700.4L425.5 691.5 M425.5 691.5L427.7 680.0 M427.7 680.0L429.3 672.5 M429.3 672.5L430.3 664.8 M430.3 664.8L431.5 657.2 M431.5 657.2L431.7 649.5 M431.7 649.5L433.0 641.9 M433.0 641.9L434.0 634.3 M434.0 634.3L436.0 626.8 M436.0 626.8L437.2 619.2 M437.2 619.2L437.0 611.4 M437.0 611.4L438.2 603.8 M438.2 603.8L439.4 596.2 M439.4 596.2L440.5 588.6 M440.5 588.6L442.0 581.0 M442.0 581.0L442.8 573.2 M442.8 573.2L443.0 565.4 M443.0 565.4L443.3 557.6 M443.3 557.6L444.6 549.8 M444.6 549.8L445.2 542.1 M445.2 542.1L446.2 534.3 M446.2 534.3L447.5 526.6 M447.5 526.6L447.8 518.7 M447.8 518.7L448.2 510.9 M448.2 510.9L449.0 503.2 M449.0 503.2L449.8 495.4 M449.8 495.4L449.5 487.5 M449.5 487.5L451.6 479.8 M451.6 479.8L452.0 472.0 M452.0 472.0L453.1 465.1"/>
<polyline fill="none" stroke="#0000ff" stroke-width="14" stroke-linejoin="round"  points="452.5,465.0 887.5,465.0"/>
<polyline fill="none" stroke="#0000ff" stroke-width="12" stroke-linejoin="round" points="887.5,465.0 887.0,473.8 892.2,482.9 894.5,490.3 897.3,497.5 899.3,503.3 902.8,508.4 906.0,514.8 909.0,521.3 915.5,531.3 919.8,535.5 924.7,539.3 933.7,544.6 939.2,550.4 946.6,555.8 957.3,560.7 966.7,566.7 969.4,578.5 977.2,584.9 988.4,587.0 994.1,596.5 995.4,603.0 996.8,609.5 1005.2,616.3 1009.0,621.8 1013.4,626.6 1016.8,632.4 1019.5,638.8 1020.7,642.7 1026.0,648.8 1031.2,655.5 1035.9,663.8 1039.7,672.5 1044.3,678.3 1048.2,684.6 1056.3,692.0 1063.1,693.3 1069.7,694.6 1074.1,699.3 1079.2,702.7 1084.2,712.5 1089.2,718.5 1094.8,723.9 1102.3,730.1 1109.1,733.3 1115.4,737.1 1121.1,741.4 1126.0,746.7 1132.7,749.6 1139.0,753.2 1144.9,756.3 1150.4,759.8 1154.4,765.1 1158.8,769.8 1162.5,775.1 1166.3,780.6 1175.6,785.4 1182.1,788.0 1188.9,790.0 1196.0,794.1 1204.3,794.1 1212.5,793.7 1221.7,794.4 1230.8,795.5 1239.2,796.2 1247.5,797.5 1253.6,797.2 1259.7,797.2 1267.3,789.0 1275.4,783.1 1284.4,780.3 1290.1,769.7 1292.7,761.6 1294.4,753.4 1299.6,748.0 1306.7,744.4 1313.6,737.5 1318.7,727.1 1321.9,718.7 1324.9,710.1 1327.5,700.4 1329.6,690.7 1333.3,683.8 1337.0,676.9 1340.4,671.0 1345.5,666.4 1349.4,659.5 1352.7,652.4 1355.3,646.3 1357.5,640.0 1358.3,632.2 1360.6,624.7 1361.1,617.0 1363.2,609.8 1364.7,602.5 1365.1,595.1 1366.4,587.8 1368.6,580.6 1369.4,572.2 1369.6,563.8 1370.6,555.5 1371.7,547.2 1374.5,538.7 1375.8,529.9 1376.3,521.0 1378.9,512.5 1380.2,504.4 1380.7,496.3 1381.3,488.1 1382.6,480.1 1383.0,471.9 1384.2,464.8"/>
<path fill="none" stroke="#0000ff" stroke-width="14" stroke-linecap="butt" d="M887.5 465.0L887.0 473.8 M887.0 473.8L892.2 482.9 M892.2 482.9L894.5 490.3 M894.5 490.3L897.3 497.5 M897.3 497.5L899.3 503.3 M899.3 503.3L902.8 508.4 M902.8 508.4L906.0 514.8 M906.0 514.8L909.0 521.3 M909.0 521.3L915.5 531.3 M915.5 531.3L919.8 535.5 M919.8 535.5L924.7 539.3 M924.7 539.3L933.7 544.6 M933.7 544.6L939.2 550.4 M939.2 550.4L946.6 555.8 M946.6 555.8L957.3 560.7 M957.3 560.7L966.7 566.7 M966.7 566.7L969.4 578.5 M969.4 578.5L977.2 584.9 M977.2 584.9L988.4 587.0 M988.4 587.0L994.1 596.5 M994.1 596.5L995.4 603.0 M995.4 603.0L996.8 609.5 M996.8 609.5L1005.2 616.3 M1005.2 616.3L1009.0 621.8 M1009.0 621.8L1013.4 626.6 M1013.4 626.6L1016.8 632.4 M1016.8 632.4L1019.5 638.8 M1019.5 638.8L1020.7 642.7 M1020.7 642.7L1026.0 648.8 M1026.0 648.8L1031.2 655.5 M1031.2 655.5L1035.9 663.8 M1035.9 663.8L1039.7 672.5 M1039.7 672.5L1044.3 678.3 M1044.3 678.3L1048.2 684.6 M1048.2 684.6L1056.3 692.0 M1056.3 692.0L1063.1 693.3 M1063.1 693.3L1069.7 694.6 M1069.7 694.6L1074.1 699.3 M1074.1 699.3L1079.2 702.7 M1079.2 702.7L1084.2 712.5 M1084.2 712.5L1089.2 718.5 M1089.2 718.5L1094.8 723.9 M1094.8 723.9L1102.3 730.1 M1102.3 730.1L1109.1 733.3 M1109.1 733.3L1115.4 737.1 M1115.4 737.1L1121.1 741.4 M1121.1 741.4L1126.0 746.7 M1126.0 746.7L1132.7 749.6 M1132.7 749.6L1139.0 753.2 M1139.0 753.2L1144.9 756.3 M1144.9 756.3L1150.4 759.8 M1150.4 759.8L1154.4 765.1 M1154.4 765.1L1158.8 769.8 M1158.8 769.8L1162.5 775.1 M1162.5 775.1L1166.3 780.6 M1166.3 780.6L1175.6 785.4 M1175.6 785.4L1182.1 788.0 M1182.1 788.0L1188.9 790.0 M1188.9 790.0L1196.0 794.1 M1196.0 794.1L1204.3 794.1 M1204.3 794.1L1212.5 793.7 M1212.5 793.7L1221.7 794.4 M1221.7 794.4L1230.8 795.5 M1230.8 795.5L1239.2 796.2 M1239.2 796.2L1247.5 797.5 M1247.5 797.5L1253.6 797.2 M1253.6 797.2L1259.7 797.2 M1259.7 797.2L1267.3 789.0 M1267.3 789.0L1275.4 783.1 M1275.4 783.1L1284.4 780.3 M1284.4 780.3L1290.1 769.7 M1290.1 769.7L1292.7 761.6 M1292.7 761.6L1294.4 753.4 M1294.4 753.4L1299.6 748.0 M1299.6 748.0L1306.7 744.4 M1306.7 744.4L1313.6 737.5 M1313.6 737.5L1318.7 727.1 M1318.7 727.1L1321.9 718.7 M1321.9 718.7L1324.9 710.1 M1324.9 710.1L1327.5 700.4 M1327.5 700.4L1329.6 690.7 M1329.6 690.7L1333.3 683.8 M1333.3 683.8L1337.0 676.9 M1337.0 676.9L1340.4 671.0 M1340.4 671.0L1345.5 666.4 M1345.5 666.4L1349.4 659.5 M1349.4 659.5L1352.7 652.4 M1352.7 652.4L1355.3 646.3 M1355.3 646.3L1357.5 640.0 M1357.5 640.0L1358.3 632.2 M1358.3 632.2L1360.6 624.7 M1360.6 624.7L1361.1 617.0 M1361.1 617.0L1363.2 609.8 M1363.2 609.8L1364.7 602.5 M1364.7 602.5L1365.1 595.1 M1365.1 595.1L1366.4 587.8 M1366.4 587.8L1368.6 580.6 M1368.6 580.6L1369.4 572.2 M1369.4 572.2L1369.6 563.8 M1369.6 563.8L1370.6 555.5 M1370.6 555.5L1371.7 547.2 M1371.7 547.2L1374.5 538.7 M1374.5 538.7L1375.8 529.9 M1375.8 529.9L1376.3 521.0 M1376.3 521.0L1378.9 512.5 M1378.9 512.5L1380.2 504.4 M1380.2 504.4L1380.7 496.3 M1380.7 496.3L1381.3 488.1 M1381.3 488.1L1382.6 480.1 M1382.6 480.1L1383.0 471.9 M1383.0 471.9L1384.2 464.8"/>
<polyline fill="none" stroke="#0000ff" stroke-width="14" stroke-linejoin="round"  points="1385.0,465.0 1809.9,464.8"/>
<polyline fill="none" stroke="#0000ff" stroke-width="12" stroke-linejoin="round" points="1809.9,464.8 1814.5,473.1 1820.1,483.3 1825.6,493.7 1832.1,502.8 1839.7,509.3 1844.3,520.2 1851.6,523.9 1859.2,531.8 1864.4,542.4 1871.2,547.5 1878.2,550.9 1884.9,559.3 1893.7,559.6 1902.4,562.6 1908.2,572.0 1914.2,581.4 1919.2,585.2 1923.4,589.7 1927.6,595.0 1931.6,600.6 1941.0,606.2 1949.2,614.7 1953.9,618.6 1958.3,622.9 1962.4,630.0 1966.9,634.8 1970.3,640.4 1974.1,645.5 1977.9,650.6 1985.6,658.3 1995.0,664.5 2003.4,672.8 2007.5,677.8 2012.0,682.5 2021.1,689.2 2025.4,695.1 2029.9,700.8 2034.5,706.7 2040.1,711.8 2042.4,719.0 2045.8,725.5 2050.5,730.2 2054.7,735.6 2061.7,739.1 2068.4,743.0 2071.9,750.8 2075.5,758.6 2081.0,762.1 2085.6,766.1 2091.4,767.9 2097.2,769.8 2101.8,773.9 2106.8,777.4 2111.6,783.3 2116.4,789.0 2119.7,794.3 2123.9,798.9 2133.5,803.1 2141.7,807.6 2143.4,809.9 2148.1,814.3 2153.0,819.0 2158.3,823.0 2164.3,826.3 2169.5,830.5 2174.5,835.0 2183.2,840.9 2189.3,849.6 2199.6,851.2 2209.0,853.3"/>
<path fill="none" stroke="#0000ff" stroke-width="14" stroke-linecap="butt" d="M1809.9 464.8L1814.5 473.1 M1814.5 473.1L1820.1 483.3 M1820.1 483.3L1825.6 493.7 M1825.6 493.7L1832.1 502.8 M1832.1 502.8L1839.7 509.3 M1839.7 509.3L1844.3 520.2 M1844.3 520.2L1851.6 523.9 M1851.6 523.9L1859.2 531.8 M1859.2 531.8L1864.4 542.4 M1864.4 542.4L1871.2 547.5 M1871.2 547.5L1878.2 550.9 M1878.2 550.9L1884.9 559.3 M1884.9 559.3L1893.7 559.6 M1893.7 559.6L1902.4 562.6 M1902.4 562.6L1908.2 572.0 M1908.2 572.0L1914.2 581.4 M1914.2 581.4L1919.2 585.2 M1919.2 585.2L1923.4 589.7 M1923.4 589.7L1927.6 595.0 M1927.6 595.0L1931.6 600.6 M1931.6 600.6L1941.0 606.2 M1941.0 606.2L1949.2 614.7 M1949.2 614.7L1953.9 618.6 M1953.9 618.6L1958.3 622.9 M1958.3 622.9L1962.4 630.0 M1962.4 630.0L1966.9 634.8 M1966.9 634.8L1970.3 640.4 M1970.3 640.4L1974.1 645.5 M1974.1 645.5L1977.9 650.6 M1977.9 650.6L1985.6 658.3 M1985.6 658.3L1995.0 664.5 M1995.0 664.5L2003.4 672.8 M2003.4 672.8L2007.5 677.8 M2007.5 677.8L2012.0 682.5 M2012.0 682.5L2021.1 689.2 M2021.1 689.2L2025.4 695.1 M2025.4 695.1L2029.9 700.8 M2029.9 700.8L2034.5 706.7 M2034.5 706.7L2040.1 711.8 M2040.1 711.8L2042.4 719.0 M2042.4 719.0L2045.8 725.5 M2045.8 725.5L2050.5 730.2 M2050.5 730.2L2054.7 735.6 M2054.7 735.6L2061.7 739.1 M2061.7 739.1L2068.4 743.0 M2068.4 743.0L2071.9 750.8 M2071.9 750.8L2075.5 758.6 M2075.5 758.6L2081.0 762.1 M2081.0 762.1L2085.6 766.1 M2085.6 766.1L2091.4 767.9 M2091.4 767.9L2097.2 769.8 M2097.2 769.8L2101.8 773.9 M2101.8 773.9L2106.8 777.4 M2106.8 777.4L2111.6 783.3 M2111.6 783.3L2116.4 789.0 M2116.4 789.0L2119.7 794.3 M2119.7 794.3L2123.9 798.9 M2123.9 798.9L2133.5 803.1 M2133.5 803.1L2141.7 807.6 M2141.7 807.6L2143.4 809.9 M2143.4 809.9L2148.1 814.3 M2148.1 814.3L2153.0 819.0 M2153.0 819.0L2158.3 823.0 M2158.3 823.0L2164.3 826.3 M2164.3 826.3L2169.5 830.5 M2169.5 830.5L2174.5 835.0 M2174.5 835.0L2183.2 840.9 M2183.2 840.9L2189.3 849.6 M2189.3 849.6L2199.6 851.2 M2199.6 851.2L2209.0 853.3"/>
<polyline fill="none" stroke="#ff00ff" stroke-width="6" stroke-linejoin="round"  points="305.0,570.5 337.0,570.5 343.0,563.7 346.0,546.5 350.0,527.0 354.0,519.6 357.0,515.7 383.0,515.7 386.0,502.0 388.0,489.0 390.0,482.7 398.0,482.7 401.0,474.0 403.0,465.0 893.0,465.0 896.7,472.0 901.3,486.7 904.0,496.8 913.2,496.8 919.6,500.4 927.8,501.0 939.8,502.8 944.3,505.9 953.5,508.3 959.9,512.3 966.3,516.0 969.1,523.3 971.8,530.7 977.3,534.7 988.3,536.2 992.9,539.8 995.7,550.8 998.4,559.6 1006.7,559.6 1011.3,563.7 1014.9,569.2 1059.8,569.2 1065.3,570.0 1080.4,569.7 1083.6,572.8 1163.7,572.8 1166.9,580.7 1170.0,583.0 1176.3,583.4 1181.0,585.9 1187.3,587.8 1192.0,591.7 1253.3,591.7 1262.8,590.1 1265.9,583.0 1269.1,575.2 1276.9,573.6 1283.2,567.3 1291.1,557.9 1294.2,545.3 1296.6,537.5 1309.1,537.5 1316.2,533.5 1320.1,518.6 1324.1,496.6 1327.2,479.3 1329.6,472.2 1334.3,468.3 1335.9,465.2 1804.6,465.2 1813.4,466.6 1823.8,469.2 1827.3,476.2 1830.0,484.9 1836.1,487.6 1840.4,493.7 1844.8,497.2 1860.5,497.5 1864.9,493.7 1963.6,493.7 1972.3,495.8 1976.7,502.4 1977.9,507.6 1982.2,513.8 1987.5,517.2 1992.7,521.6 2010.2,521.6 2015.4,527.7 2032.0,527.7 2039.0,534.7 2048.6,534.7 2057.3,539.1 2062.6,547.8 2067.8,554.8 2070.4,562.7 2088.8,562.7 2094.0,569.7 2099.3,571.4 2102.8,574.0 2114.1,574.0 2119.3,578.9 2129.8,578.9 2134.2,589.7 2208.0,590.6"/>
</g>
<g font-family="Liberation Sans, sans-serif" fill="#000" filter="url(#th)">
<text transform="translate(304.2,87.4) scale(1,1.03)" font-size="57" >Jää ja lumi,65 244 Vanttausjärvi</text>
<text transform="translate(177.3,126.2) scale(1,1.04)" font-size="57" >60</text>
<text transform="translate(177.3,242.8) scale(1,1.04)" font-size="57" >40</text>
<text transform="translate(176.7,359.4) scale(1,1.04)" font-size="57" >20</text>
<text transform="translate(192.2,476.1) scale(1,1.04)" font-size="57" >0</text>
<text transform="translate(161.9,592.7) scale(1,1.04)" font-size="57" >-20</text>
<text transform="translate(161.0,709.3) scale(1,1.04)" font-size="57" >-40</text>
<text transform="translate(161.0,826.0) scale(1,1.04)" font-size="57" >-60</text>
<text transform="translate(160.9,942.6) scale(1,1.04)" font-size="57" >-80</text>
<text transform="translate(146.3,1059.2) scale(1,1.04)" font-size="57" >-100</text>
<text transform="translate(320.6,1121.0) scale(1,1.06)" font-size="35.5" >IV</text>
<text transform="translate(408.2,1121.0) scale(1,1.06)" font-size="35.5" >V</text>
<text transform="translate(479.0,1121.0) scale(1,1.06)" font-size="35.5" >VI</text>
<text transform="translate(557.0,1121.0) scale(1,1.06)" font-size="35.5" >VII</text>
<text transform="translate(628.0,1121.0) scale(1,1.06)" font-size="35.5" >VIII</text>
<text transform="translate(717.5,1121.0) scale(1,1.06)" font-size="35.5" >IX</text>
<text transform="translate(805.2,1121.0) scale(1,1.06)" font-size="35.5" >X</text>
<text transform="translate(875.9,1121.0) scale(1,1.06)" font-size="35.5" >XI</text>
<text transform="translate(952.5,1121.0) scale(1,1.06)" font-size="35.5" >XII</text>
<text transform="translate(1043.9,1121.0) scale(1,1.06)" font-size="35.5" >I</text>
<text transform="translate(1114.6,1121.0) scale(1,1.06)" font-size="35.5" >II</text>
<text transform="translate(1188.1,1121.0) scale(1,1.06)" font-size="35.5" >III</text>
<text transform="translate(1267.6,1121.0) scale(1,1.06)" font-size="35.5" >IV</text>
<text transform="translate(1355.2,1121.0) scale(1,1.06)" font-size="35.5" >V</text>
<text transform="translate(1427.0,1121.0) scale(1,1.06)" font-size="35.5" >VI</text>
<text transform="translate(1505.0,1121.0) scale(1,1.06)" font-size="35.5" >VII</text>
<text transform="translate(1575.0,1121.0) scale(1,1.06)" font-size="35.5" >VIII</text>
<text transform="translate(1665.5,1121.0) scale(1,1.06)" font-size="35.5" >IX</text>
<text transform="translate(1752.2,1121.0) scale(1,1.06)" font-size="35.5" >X</text>
<text transform="translate(1822.9,1121.0) scale(1,1.06)" font-size="35.5" >XI</text>
<text transform="translate(1900.5,1121.0) scale(1,1.06)" font-size="35.5" >XII</text>
<text transform="translate(1990.9,1121.0) scale(1,1.06)" font-size="35.5" >I</text>
<text transform="translate(2062.6,1121.0) scale(1,1.06)" font-size="35.5" >II</text>
<text transform="translate(2135.1,1121.0) scale(1,1.06)" font-size="35.5" >III</text>
<text transform="translate(309.0,1165.4) scale(1,1.04)" font-size="35.5" >2025</text>
<text transform="translate(1023.0,1165.4) scale(1,1.04)" font-size="35.5" >2026</text>
<text transform="translate(1970.0,1165.4) scale(1,1.04)" font-size="35.5" >2027</text>
<text transform="translate(2223.0,1140.0) scale(1,1.02)" font-size="35.5" >04-Apr-2026 03:38 WSFS-P</text>
<text transform="translate(98.8,979.5) rotate(-90) scale(1,1.0)" font-size="49.5" xml:space="preserve">Jää ja lumi / Ice and snow    cm</text>
<text transform="translate(2222.4,84.0) scale(1,1.02)" font-size="35.5" >Lumen syvyys jäällä</text>
<text transform="translate(2222.4,126.5) scale(1,1.02)" font-size="35.5" >Simuloitu ja keskiennuste</text>
<text transform="translate(2222.4,200.4) scale(1,1.02)" font-size="35.5" >Jään paksuus</text>
<text transform="translate(2222.4,243.6) scale(1,1.02)" font-size="35.5" >Simuloitu ja keskiennuste</text>
<text transform="translate(2222.4,317.3) scale(1,1.02)" font-size="35.5" >Ennusteen vaihteluväli</text>
<text transform="translate(2222.4,391.5) scale(1,1.02)" font-size="35.5" >5-95% vaihteluväli</text>
<text transform="translate(2222.4,465.0) scale(1,1.02)" font-size="35.5" >25-75% vaihteluväli</text>
<text transform="translate(2222.4,538.2) scale(1,1.02)" font-size="35.5" >Kohvajää</text>
<text transform="translate(2222.4,612.3) scale(1,1.02)" font-size="35.5" >Ennusteen alku</text>
</g>
<g>
<rect x="2223" y="139" width="8" height="10" fill="#0000ff"/>
<line x1="2234" y1="144" x2="2541" y2="144" stroke="#0000ff" stroke-width="10" stroke-dasharray="15 3"/>
<rect x="2223" y="254" width="318" height="13" fill="#0000ff"/>
<rect x="2223" y="328" width="318" height="13" fill="#ffff00"/>
<rect x="2223" y="402" width="318" height="13" fill="#ff0000"/>
<rect x="2223" y="475" width="318" height="13" fill="#00ff00"/>
<rect x="2223" y="553" width="318" height="6" fill="#ff00ff"/>
<line x1="2223" y1="630" x2="2541" y2="630" stroke="#00ffff" stroke-width="10" stroke-dasharray="15 13.3"/>
</g>
</svg>
</body></html>
